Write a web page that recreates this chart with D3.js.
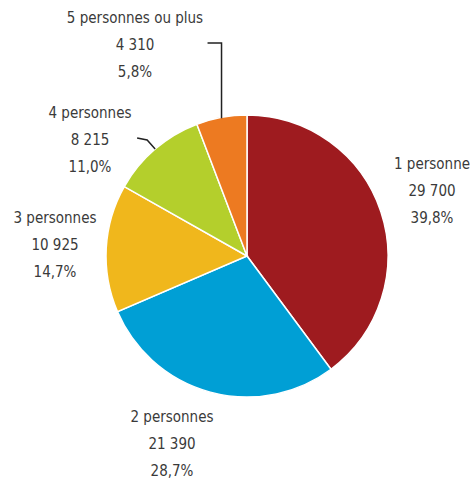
<!DOCTYPE html>
<html>
<head>
<meta charset="utf-8">
<script src="https://cdn.jsdelivr.net/npm/d3@7"></script>
<style>
  body { margin: 0; background: #fff; }
  text { font-family: "Liberation Sans Narrow", "DejaVu Sans Condensed", sans-serif; font-size: 15px; fill: #3a3a3a; }
</style>
</head>
<body>
<svg width="474" height="487"></svg>
<script>
// household sizes
var categories = ["1 personne", "2 personnes", "3 personnes", "4 personnes", "5 personnes ou plus"];
var counts = [29700, 21390, 10925, 8215, 4310];
var countLabels = ["29 700", "21 390", "10 925", "8 215", "4 310"];
var pctLabels = ["39,8%", "28,7%", "14,7%", "11,0%", "5,8%"];
var colors = ["#9e1b1f", "#009fd5", "#f0b71c", "#b4cf2c", "#ed7a21"];

var svg = d3.select("svg"),
    cx = 247, cy = 256, radius = 141;

var g = svg.append("g").attr("transform", "translate(" + cx + "," + cy + ")");

var data = categories.map(function(c, i) {
  return {name: c, value: counts[i], count: countLabels[i], pct: pctLabels[i], color: colors[i]};
});

var pie = d3.pie().sort(null).value(function(d) { return d.value; });
var arc = d3.arc().innerRadius(0).outerRadius(radius);
var arcs = pie(data);

g.selectAll("path.slice")
  .data(arcs)
  .enter().append("path")
  .attr("class", "slice")
  .attr("d", arc)
  .attr("fill", function(d) { return d.data.color; })
  .attr("stroke", "#fff")
  .attr("stroke-width", 1.5);

// label positions relative to centre (hand placed, like the original layout)
var labelPos = [
  {x: 185, y: -92},
  {x: -75, y: 161},
  {x: -192, y: -38},
  {x: -157, y: -143},
  {x: -112, y: -238}
];

var labels = g.selectAll("g.label")
  .data(arcs)
  .enter().append("g")
  .attr("class", "label")
  .attr("transform", function(d, i) { return "translate(" + labelPos[i].x + "," + labelPos[i].y + ")"; });

labels.append("text")
  .attr("text-anchor", "middle")
  .attr("dy", "0.35em")
  .text(function(d) { return d.data.name; });
labels.append("text")
  .attr("text-anchor", "middle")
  .attr("y", 27)
  .attr("dy", "0.35em")
  .text(function(d) { return d.data.count; });
labels.append("text")
  .attr("text-anchor", "middle")
  .attr("y", 54)
  .attr("dy", "0.35em")
  .text(function(d) { return d.data.pct; });

// leader lines for the two small slices
function edge(d) {
  var a = (d.startAngle + d.endAngle) / 2;
  return [radius * Math.sin(a), -radius * Math.cos(a)];
}
var e5 = edge(arcs[4]);
g.append("path")
  .attr("d", "M" + (e5[0] - 14) + "," + -213 + "H" + e5[0] + "V" + (e5[1] + 1))
  .attr("fill", "none").attr("stroke", "#222").attr("stroke-width", 1.5);

var e4 = edge(arcs[3]);
g.append("path")
  .attr("d", "M" + (e4[0] - 18) + "," + (e4[1] - 11) + "L" + (e4[0] - 8) + "," + (e4[1] - 9) + "L" + e4[0] + "," + e4[1])
  .attr("fill", "none").attr("stroke", "#222").attr("stroke-width", 1.5);
</script>
</body>
</html>
